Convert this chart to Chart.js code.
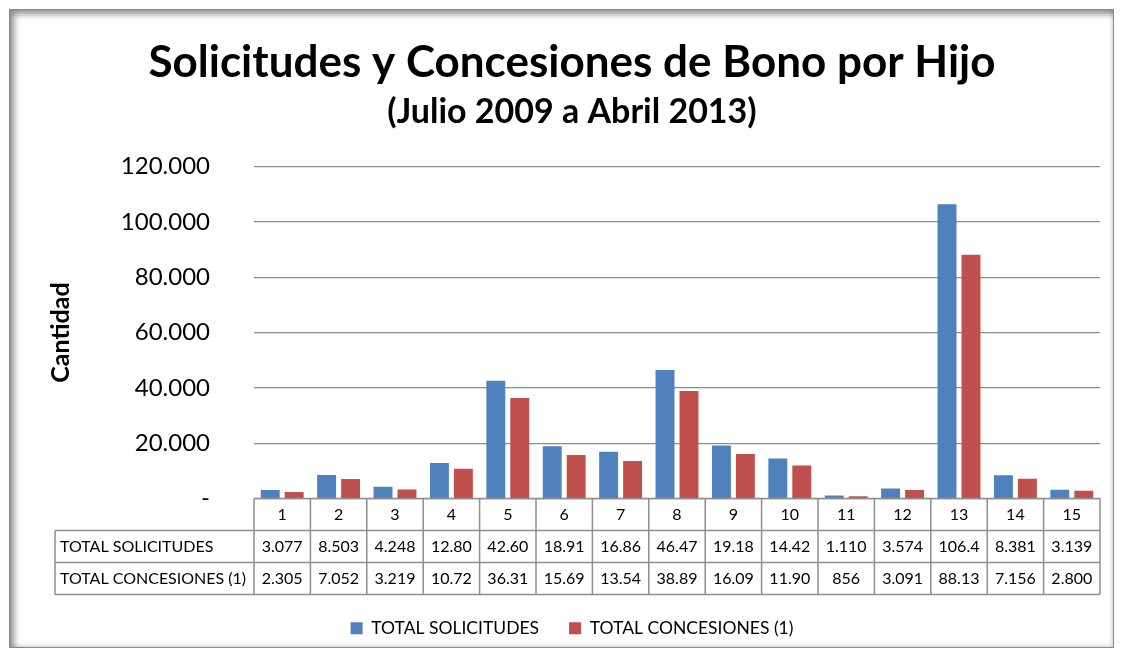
<!DOCTYPE html>
<html>
<head>
<meta charset="utf-8">
<script src="https://cdn.jsdelivr.net/npm/chart.js@4"></script>
<style>
  body { margin: 0; background: #fff; }
  #frame {
    position: absolute; left: 9px; top: 9px; width: 1103px; height: 637px;
    border: 1px solid #8a8a8a;
    box-shadow: inset 4px 4px 6px rgba(0,0,0,0.45), inset -2px -2px 4px rgba(0,0,0,0.12);
  }
  #chart { position: absolute; left: 0; top: 0; }
</style>
</head>
<body>
<div id="frame"></div>
<canvas id="chart" width="1123" height="656"></canvas>
<script>
// --- datos ---
const categories = ['1','2','3','4','5','6','7','8','9','10','11','12','13','14','15'];
const solicitudes = [3077, 8503, 4248, 12800, 42600, 18910, 16860, 46470, 19180, 14420, 1110, 3574, 106400, 8381, 3139];
const concesiones = [2305, 7052, 3219, 10720, 36310, 15690, 13540, 38890, 16090, 11900, 856, 3091, 88130, 7156, 2800];
const seriesNames = ['TOTAL SOLICITUDES', 'TOTAL CONCESIONES (1)'];
const yTicks = [0, 20000, 40000, 60000, 80000, 100000, 120000];

const FONT = 'Lato, "Open Sans", sans-serif';

// formato es: separador de miles con punto
function fmt(v) {
    return Math.round(v).toString().replace(/\B(?=(\d{3})+(?!\d))/g, '.');
}
// la celda de la tabla corta el texto a 5 caracteres, como en la hoja original
function cellText(v) {
    const s = fmt(v);
    return s.length > 5 ? s.slice(0, 5) : s;
}

// tabla de datos bajo el eje X
const dataTable = {
    id: 'dataTable',
    afterDraw(chart) {
        const { ctx, chartArea, scales: { x } } = chart;
        const top = chartArea.bottom;
        const rowH = 32;
        const half = (x.getPixelForValue(1) - x.getPixelForValue(0)) / 2;
        const colLeft = x.getPixelForValue(0) - half;
        const colRight = x.getPixelForValue(categories.length - 1) + half;
        const labelLeft = 55;
        const rows = [solicitudes, concesiones];

        ctx.save();
        ctx.strokeStyle = '#8e8e8e';
        ctx.lineWidth = 1.5;
        ctx.beginPath();
        // horizontales
        ctx.moveTo(colLeft, top); ctx.lineTo(colRight, top);
        for (let r = 1; r <= 3; r++) {
            ctx.moveTo(labelLeft, top + r * rowH); ctx.lineTo(colRight, top + r * rowH);
        }
        // verticales
        ctx.moveTo(labelLeft, top + rowH); ctx.lineTo(labelLeft, top + 3 * rowH);
        for (let i = 0; i <= categories.length; i++) {
            const px = colLeft + i * half * 2;
            ctx.moveTo(px, top); ctx.lineTo(px, top + 3 * rowH);
        }
        ctx.stroke();

        ctx.fillStyle = '#000';
        ctx.font = '16px ' + FONT;
        ctx.textBaseline = 'middle';
        ctx.textAlign = 'center';
        categories.forEach((c, i) => {
            const cx = x.getPixelForValue(i);
            ctx.fillText(c, cx, top + rowH / 2);
            rows.forEach((vals, r) => ctx.fillText(cellText(vals[i]), cx, top + (r + 1.5) * rowH));
        });
        ctx.textAlign = 'left';
        seriesNames.forEach((n, r) => ctx.fillText(n, labelLeft + 5, top + (r + 1.5) * rowH));
        ctx.restore();
    }
};

new Chart(document.getElementById('chart'), {
    type: 'bar',
    data: {
        labels: categories,
        datasets: [
            { label: seriesNames[0], data: solicitudes, backgroundColor: '#4F81BD' },
            { label: seriesNames[1], data: concesiones, backgroundColor: '#C0504D' }
        ]
    },
    options: {
        responsive: false,
        animation: false,
        layout: { padding: { left: 44, right: 23, bottom: 9 } },
        categoryPercentage: 0.85,
        barPercentage: 0.79,
        plugins: {
            title: {
                display: true,
                text: 'Solicitudes y Concesiones de Bono por Hijo',
                color: '#000',
                font: { family: FONT, size: 44, weight: 'bold' },
                padding: { top: 36, bottom: 0 }
            },
            subtitle: {
                display: true,
                text: '(Julio 2009 a Abril 2013)',
                color: '#000',
                font: { family: FONT, size: 34, weight: 'bold' },
                padding: { top: 3, bottom: 34 }
            },
            legend: {
                position: 'bottom',
                labels: {
                    color: '#000',
                    font: { family: FONT, size: 17.5 },
                    boxWidth: 12, boxHeight: 12,
                    padding: 30
                }
            },
            tooltip: { enabled: false }
        },
        scales: {
            x: {
                grid: { display: false },
                border: { display: false },
                ticks: { display: false },
                afterFit(scale) { scale.height = 91; }
            },
            y: {
                min: 0, max: 120000,
                afterBuildTicks(scale) { scale.ticks = yTicks.map(v => ({ value: v })); },
                afterFit(scale) { scale.width = 210; },
                grid: { color: '#8c8c8c', lineWidth: 1.2, drawTicks: false },
                border: { display: false },
                ticks: {
                    padding: 44,
                    color: '#000',
                    font: { family: FONT, size: 24 },
                    callback: v => v === 0 ? '-' : fmt(v)
                },
                title: {
                    display: true,
                    text: 'Cantidad',
                    color: '#000',
                    font: { family: FONT, size: 25, weight: 'bold' },
                    padding: { top: 2, bottom: 0 }
                }
            }
        }
    },
    plugins: [dataTable]
});
</script>
</body>
</html>
